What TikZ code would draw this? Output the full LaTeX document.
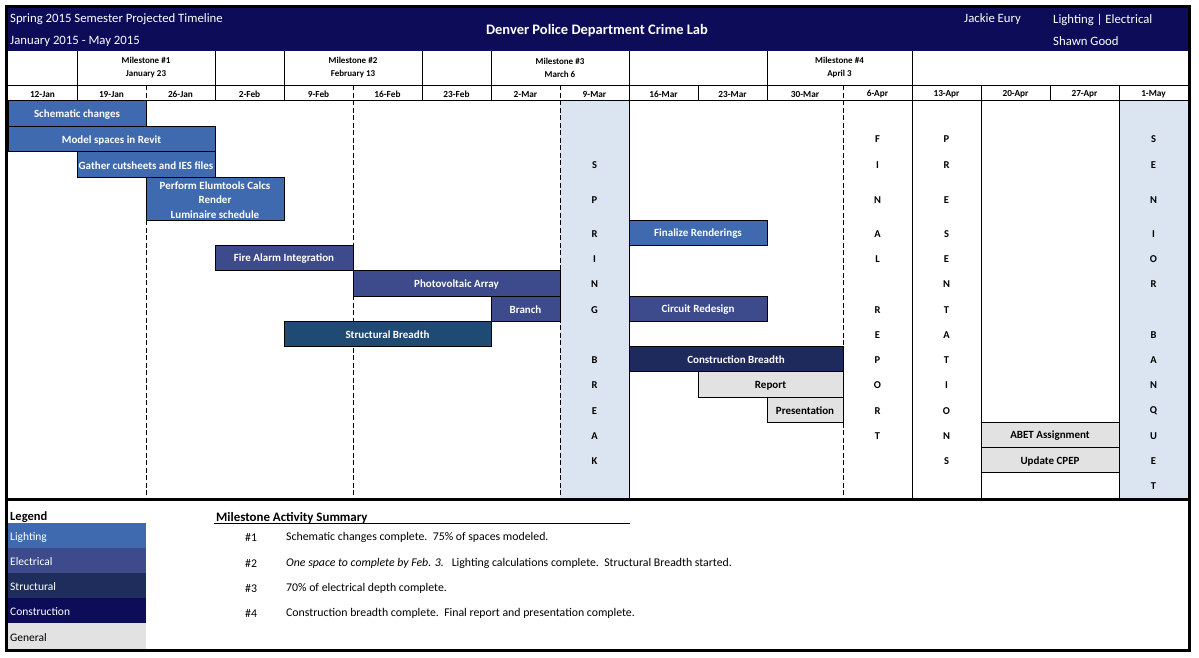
\documentclass[tikz,border=0pt]{standalone}
\usepackage{fontspec}
\setmainfont{Carlito}
\usetikzlibrary{fit}
\definecolor{navy}{HTML}{0C0C58}
\definecolor{lighting}{HTML}{3F6AAF}
\definecolor{electrical}{HTML}{3D4A8C}
\definecolor{structbar}{HTML}{1F4A73}
\definecolor{constbar}{HTML}{1E2A5C}
\definecolor{legstruct}{HTML}{1F2D5C}
\definecolor{legconst}{HTML}{0C0C58}
\definecolor{general}{HTML}{E2E2E2}
\definecolor{breakblue}{HTML}{DBE5F1}
\newcommand\myfs[1]{\fontsize{#1}{1.2\dimexpr#1pt\relax}\selectfont}
\newcommand\ganttbar[5]{%
  \node[bar, #2, fit={#3}] (#1) {};
  \node[bartxt, #4] (#1t) at (#1.center) {#5};}
\begin{document}
\begin{tikzpicture}[x=1pt,y=-1pt,
  lower/.style={yshift=-1.5pt},
  grid/.style={line width=0.8pt},
  dgrid/.style={line width=0.8pt, dash pattern=on 5pt off 2.5pt},
  bar/.style={draw=black, line width=0.8pt, inner sep=0pt, outer sep=0pt},
  bartxt/.style={lower, text=white, font=\bfseries\myfs{11}, align=center, inner sep=0pt},
  letter/.style={lower, font=\bfseries\myfs{10.5}, inner sep=0pt},
  datetxt/.style={lower, font=\bfseries\myfs{9.3}, inner sep=0pt},
  mstxt/.style={lower, font=\bfseries\fontsize{9}{13}\selectfont, inner sep=0pt, align=center},
  hdr/.style={lower, text=white, font=\myfs{12.75}, anchor=west, inner sep=0pt},
  sumtxt/.style={lower, font=\myfs{11.8}, anchor=west, inner sep=0pt},
  legbox/.style={inner sep=0pt, outer sep=0pt, draw=none},
  legtxt/.style={lower, font=\myfs{11.5}, anchor=west, inner sep=0pt, xshift=2pt}
]
\useasboundingbox[fill=white] (0,0) rectangle (1199,657);

% header
\fill[navy] (8,8) rectangle (1188,51);
\node[hdr] (h1) at (10,18) {Spring 2015 Semester Projected Timeline};
\node[hdr] (h2) at (10,40) {January 2015 - May 2015};
\node[lower, text=white, font=\bfseries\myfs{14.5}, inner sep=0pt] (title) at (597,29) {Denver Police Department Crime Lab};
\node[hdr] (h3) at (964,18) {Jackie Eury};
\node[hdr] (h4) at (1053,18) {Lighting | Electrical};
\node[hdr] (h5) at (1053,40) {Shawn Good};

% chart column fills
\fill[breakblue] (560,100) rectangle (629,498);
\fill[breakblue] (1119,100) rectangle (1188,498);

% milestone row
\draw[grid] (8,85) -- (1188,85);
\foreach \x in {77,215,284,422,491,629,767,912} \draw[grid] (\x,51) -- (\x,85);
\node[mstxt] (m1) at (146,66.5) {Milestone \#1\\January 23};
\node[mstxt] (m2) at (353,66.5) {Milestone \#2\\February 13};
\node[mstxt] (m3) at (560,66.5) {Milestone \#3\\March 6};
\node[mstxt] (m4) at (839.5,66.5) {Milestone \#4\\April 3};

% date row
\draw[grid] (8,100) -- (1188,100);
\foreach \x in {77,215,284,422,491,629,698,767,912,981,1050,1119} \draw[grid] (\x,85) -- (\x,100);
\foreach \x in {146,353,560,843} \draw[dgrid] (\x,85) -- (\x,100);
\foreach \x/\t [count=\i] in {42.5/12-Jan,111.5/19-Jan,180.5/26-Jan,249.5/2-Feb,318.5/9-Feb,387.5/16-Feb,456.5/23-Feb,525.5/2-Mar,594.5/9-Mar,663.5/16-Mar,732.5/23-Mar,805/30-Mar,877.5/6-Apr,946.5/13-Apr,1015.5/20-Apr,1084.5/27-Apr,1153.5/1-May}
  \node[datetxt] (d\i) at (\x,92.5) {\t};

% chart verticals
\foreach \x in {146,353,560,843} \draw[dgrid] (\x,100) -- (\x,498);
\foreach \x in {629,912,981,1119} \draw[grid] (\x,100) -- (\x,498);
\draw[grid] (981,472) -- (1119,472);

% bars
\ganttbar{b1}{fill=lighting}{(8,100)(146,126)}{}{Schematic changes}
\ganttbar{b2}{fill=lighting}{(8,126)(215,151)}{}{Model spaces in Revit}
\ganttbar{b3}{fill=lighting}{(77,151)(215,177)}{}{Gather cutsheets and IES files}
\ganttbar{b4}{fill=lighting}{(146,177)(284,220)}{font=\bfseries\fontsize{11}{14.5}\selectfont}{Perform Elumtools Calcs\\Render\\Luminaire schedule}
\ganttbar{b5}{fill=lighting}{(629,220)(767,245)}{}{Finalize Renderings}
\ganttbar{b6}{fill=electrical}{(215,245)(353,270)}{}{Fire Alarm Integration}
\ganttbar{b7}{fill=electrical}{(353,270)(560,296)}{}{Photovoltaic Array}
\ganttbar{b8}{fill=electrical}{(491,296)(560,321)}{}{Branch}
\ganttbar{b9}{fill=electrical}{(629,296)(767,321)}{}{Circuit Redesign}
\ganttbar{b10}{fill=structbar}{(284,321)(491,346)}{}{Structural Breadth}
\ganttbar{b11}{fill=constbar}{(629,346)(843,371)}{}{Construction Breadth}
\ganttbar{b12}{fill=general}{(698,371)(843,397)}{text=black}{Report}
\ganttbar{b13}{fill=general}{(767,397)(843,422)}{text=black}{Presentation}
\ganttbar{b14}{fill=general}{(981,422)(1119,447)}{text=black}{ABET Assignment}
\ganttbar{b15}{fill=general}{(981,447)(1119,472)}{text=black}{Update CPEP}

% vertical words
\foreach \y/\l [count=\i] in {164/S,198.5/P,233/R,258/I,283/N,308.5/G,358.5/B,384/R,409.5/E,434.5/A,459.5/K}
  \node[letter] (sp\i) at (594.5,\y) {\l};
\foreach \y/\l [count=\i] in {138/F,164/I,198.5/N,233/A,258/L,308.5/R,333.5/E,358.5/P,384/O,409.5/R,434.5/T}
  \node[letter] (fr\i) at (877.5,\y) {\l};
\foreach \y/\l [count=\i] in {138/P,164/R,198.5/E,233/S,258/E,283/N,308.5/T,333.5/A,358.5/T,384/I,409.5/O,434.5/N,459.5/S}
  \node[letter] (pr\i) at (946.5,\y) {\l};
\foreach \y/\l [count=\i] in {138/S,164/E,198.5/N,233/I,258/O,283/R,333.5/B,358.5/A,384/N,409.5/Q,434.5/U,459.5/E,484.5/T}
  \node[letter] (sn\i) at (1153.5,\y) {\l};

% separator and outer border
\draw[line width=3pt] (6.5,499) -- (1189.5,499);
\draw[line width=3pt] (6.5,6.5) rectangle (1189.5,650);

% legend
\node[lower, font=\bfseries\myfs{12.5}, anchor=west, inner sep=0pt] (leg) at (10,516) {Legend};
\node[legbox, fill=lighting, fit={(8,523)(146,548)}] (l1) {};
\node[legbox, fill=electrical, fit={(8,548)(146,573)}] (l2) {};
\node[legbox, fill=legstruct, fit={(8,573)(146,598)}] (l3) {};
\node[legbox, fill=legconst, fit={(8,598)(146,623)}] (l4) {};
\node[legbox, fill=general, fit={(8,623)(146,648.5)}] (l5) {};
\node[legtxt, text=white] (lt1) at (l1.west) {Lighting};
\node[legtxt, text=white] (lt2) at (l2.west) {Electrical};
\node[legtxt, text=white] (lt3) at (l3.west) {Structural};
\node[legtxt, text=white] (lt4) at (l4.west) {Construction};
\node[legtxt, text=black] (lt5) at (l5.west) {General};

% summary
\node[lower, font=\bfseries\myfs{12.9}, anchor=west, inner sep=0pt] (sumt) at (216,516) {Milestone Activity Summary};
\coordinate (ul1) at (214,523);
\coordinate (ul2) at (630,523);
\draw[grid] (ul1) -- (ul2);
\node[sumtxt] (n1) at (245,536) {\#1};
\node[sumtxt] (n2) at (245,562) {\#2};
\node[sumtxt] (n3) at (245,587) {\#3};
\node[sumtxt] (n4) at (245,612) {\#4};
\node[sumtxt] (s1) at (286,536) {Schematic changes complete.\ \ 75\% of spaces modeled.};
\node[sumtxt] (s2) at (286,562) {\textit{One space to complete by Feb. 3.}\ \ \ Lighting calculations complete.\ \ Structural Breadth started.};
\node[sumtxt] (s3) at (286,587) {70\% of electrical depth complete.};
\node[sumtxt] (s4) at (286,612) {Construction breadth complete.\ \ Final report and presentation complete.};
\end{tikzpicture}
\end{document}
